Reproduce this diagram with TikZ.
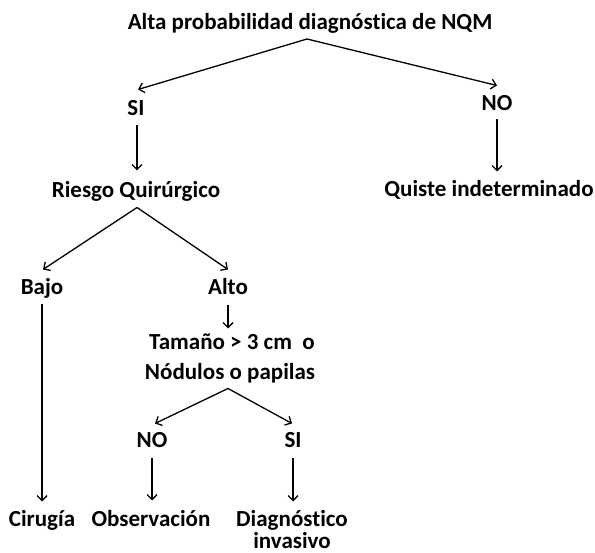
\documentclass[tikz,border=0pt]{standalone}
\usepackage{fontspec}
\setmainfont{Carlito}[Ligatures={NoCommon,NoRare}]
\usetikzlibrary{arrows.meta,calc}
\tikzset{
  lbl/.style={font=\fontsize{23}{27}\selectfont\bfseries, inner sep=0pt, outer sep=0pt, text height=15pt, text depth=0pt, anchor=center},
  arr/.style={line width=1.3pt, -{Straight Barb[length=5pt,width=10pt,line width=1.3pt]}}
}
\begin{document}
\begin{tikzpicture}[x=1pt,y=-1pt]
\useasboundingbox[fill=white] (0,0) rectangle (595,553);
\node[lbl] (title) at (310,22) {Alta probabilidad diagnóstica de NQM};
\node[lbl] (si) at (136,108) {SI};
\node[lbl] (no) at (497,103) {NO};
\node[lbl] (riesgo) at (136,190) {Riesgo Quirúrgico};
\node[lbl] (quiste) at (489,189) {Quiste indeterminado};
\node[lbl] (bajo) at (42,287) {Bajo};
\node[lbl] (alto) at (228,287) {Alto};
\node[lbl] (tam1) at (232,342) {Tamaño > 3 cm\ \ o};
\node[lbl] (tam2) at (230,372) {Nódulos o papilas};
\node[lbl] (no2) at (152,440) {NO};
\node[lbl] (si2) at (293,440) {SI};
\node[lbl] (cirugia) at (42,519) {Cirugía};
\node[lbl] (obs) at (151,519) {Observación};
\node[lbl] (diag1) at (292,519) {Diagnóstico};
\node[lbl] (diag2) at (292,541) {invasivo};

\coordinate (ap1) at ($(title.south)+(-3,9.5)$);
\draw[arr] (ap1) -- ($(si.north)+(2,-11)$);
\draw[arr] (ap1) -- ($(no.north)+(0,-10)$);
\draw[arr] ($(si.south)+(1,10)$) -- ($(riesgo.north)+(1,-12)$);
\draw[arr] ($(no.south)+(0,9)$) -- ($(quiste.north)+(8,-10)$);
\coordinate (ap2) at ($(riesgo.south)+(1,10)$);
\draw[arr] (ap2) -- ($(bajo.north)+(1,-10)$);
\draw[arr] (ap2) -- ($(alto.north)+(0,-10)$);
\draw[arr] ($(bajo.south)+(0,10)$) -- ($(cirugia.north)+(0,-10)$);
\draw[arr] ($(alto.south)+(0,11)$) -- ($(tam1.north)+(-4,-6)$);
\coordinate (ap3) at ($(tam2.south)+(-2,9)$);
\draw[arr] (ap3) -- ($(no2.north)+(3,-9)$);
\draw[arr] (ap3) -- ($(si2.north)+(-1,-9)$);
\draw[arr] ($(no2.south)+(0,11)$) -- ($(obs.north)+(1,-11)$);
\draw[arr] ($(si2.south)+(0,11)$) -- ($(diag1.north)+(1,-10)$);
\end{tikzpicture}
\end{document}
